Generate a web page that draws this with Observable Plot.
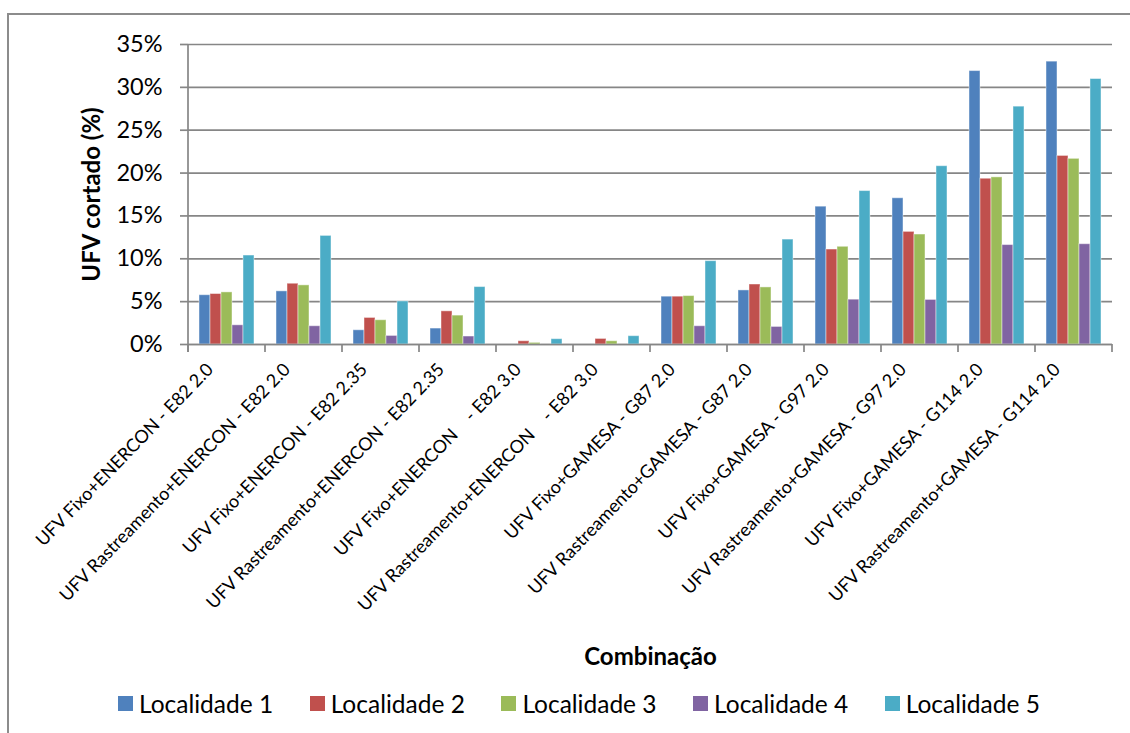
<!DOCTYPE html>
<html><head><meta charset="utf-8">
<script src="https://cdn.jsdelivr.net/npm/d3@7"></script>
<script src="https://cdn.jsdelivr.net/npm/@observablehq/plot@0.6"></script>
<style>
body{margin:0;background:#fff;font-family:Lato,sans-serif;}
#wrap{position:relative;width:1130px;height:733px;overflow:hidden;background:#fff;}
#border{position:absolute;left:7px;top:13px;width:1140px;height:740px;border:2px solid #8c8c8c;box-sizing:border-box;}
#chart{position:absolute;left:0;top:0;}
#chart svg text{white-space:pre;}
g[aria-label="y-axis label"] text, g[aria-label="fx-axis label"] text{font-weight:bold;}
#legend{position:absolute;left:118px;top:691px;height:24px;display:flex;font-family:Lato,sans-serif;font-size:24.5px;color:#000;}
.item{width:191.7px;display:flex;align-items:center;white-space:nowrap;}
.sw{width:15px;height:15px;margin-right:6px;flex:none;}
</style>
</head><body>
<div id="wrap"><div id="border"></div><div id="chart"></div><div id="legend"></div></div>
<script>
const categorias = [
  "UFV Fixo+ENERCON - E82 2.0",
  "UFV Rastreamento+ENERCON - E82 2.0",
  "UFV Fixo+ENERCON - E82 2.35",
  "UFV Rastreamento+ENERCON - E82 2.35",
  "UFV Fixo+ENERCON    - E82 3.0",
  "UFV Rastreamento+ENERCON    - E82 3.0",
  "UFV Fixo+GAMESA - G87 2.0",
  "UFV Rastreamento+GAMESA - G87 2.0",
  "UFV Fixo+GAMESA - G97 2.0",
  "UFV Rastreamento+GAMESA - G97 2.0",
  "UFV Fixo+GAMESA - G114 2.0",
  "UFV Rastreamento+GAMESA - G114 2.0"
];
const series = ["Localidade 1", "Localidade 2", "Localidade 3", "Localidade 4", "Localidade 5"];
const loc1 = [5.75, 6.2, 1.66, 1.86, 0, 0, 5.58, 6.31, 16.08, 17.06, 31.9, 33.0];
const loc2 = [5.89, 7.09, 3.1, 3.87, 0.38, 0.65, 5.58, 7.0, 11.08, 13.14, 19.34, 22.0];
const loc3 = [6.08, 6.9, 2.83, 3.37, 0.19, 0.38, 5.65, 6.66, 11.4, 12.83, 19.5, 21.66];
const loc4 = [2.24, 2.13, 1.0, 0.93, 0, 0, 2.13, 2.05, 5.23, 5.2, 11.6, 11.7];
const loc5 = [10.38, 12.67, 5.03, 6.7, 0.62, 0.97, 9.72, 12.24, 17.9, 20.8, 27.75, 30.97];
const yTicks = [0, 5, 10, 15, 20, 25, 30, 35];
const cores = ["#4F81BD", "#C0504D", "#9BBB59", "#8064A2", "#4BACC6"];

const valores = [loc1, loc2, loc3, loc4, loc5];
const data = [];
categorias.forEach((c, i) => series.forEach((s, j) => data.push({cat: c, loc: s, v: valores[j][i]})));

const grid = "#868686";
const chart = Plot.plot({
  width: 1130, height: 680,
  marginLeft: 186, marginRight: 17, marginTop: 44, marginBottom: 336,
  style: {fontFamily: "Lato, sans-serif", fontSize: "23px", color: "#000", background: "transparent", overflow: "visible"},
  fx: {domain: categorias, padding: 0, label: "Combinação"},
  x: {domain: series, paddingInner: 0, paddingOuter: 0.735, axis: null},
  y: {domain: [0, 35], label: "UFV cortado (%)"},
  color: {domain: series, range: cores},
  marks: [
    Plot.gridY(yTicks, {stroke: grid, strokeOpacity: 1, strokeWidth: 1.7}),
    Plot.axisY(yTicks, {tickSize: 8, tickPadding: 18, stroke: grid, strokeWidth: 1.7, tickFormat: d => d + "%",
      label: "UFV cortado (%)", labelAnchor: "center", labelOffset: 106, labelArrow: "none", fontSize: 23.5}),
    Plot.axisFx({anchor: "bottom", tickRotate: -46, tickSize: 0, tickPadding: 22, dx: -17, fontSize: 18, label: "Combinação",
      labelAnchor: "center", labelOffset: 320}),
    Plot.barY(data, {fx: "cat", x: "loc", y: "v", fill: "loc", stroke: "#fff", strokeOpacity: 0.45, strokeWidth: 1}),
    Plot.ruleY([0], {stroke: grid, strokeWidth: 1.7})
  ]
});
document.getElementById("chart").appendChild(chart);
d3.select(chart).selectAll('g[aria-label="y-axis label"] text, g[aria-label="fx-axis label"] text').style("font-size", "24px");

// eixo Y e marcas nos limites das categorias, a partir das escalas do Plot
const fx = chart.scale("fx"), ys = chart.scale("y");
const svg = d3.select(chart);
const y0 = ys.apply(0), y35 = ys.apply(35);
const x0 = fx.apply(categorias[0]);
svg.append("line").attr("x1", x0).attr("x2", x0).attr("y1", y35).attr("y2", y0 + 8)
  .attr("stroke", grid).attr("stroke-width", 1.7);
const bounds = categorias.map(c => fx.apply(c)).concat([fx.apply(categorias[categorias.length - 1]) + fx.bandwidth]);
svg.append("g").selectAll("line").data(bounds).join("line")
  .attr("x1", d => d).attr("x2", d => d).attr("y1", y0).attr("y2", y0 + 8)
  .attr("stroke", grid).attr("stroke-width", 1.7);

const leg = d3.select("#legend");
series.forEach((s, i) => {
  const it = leg.append("div").attr("class", "item");
  it.append("div").attr("class", "sw").style("background", cores[i]);
  it.append("span").text(s);
});
</script>
</body></html>
